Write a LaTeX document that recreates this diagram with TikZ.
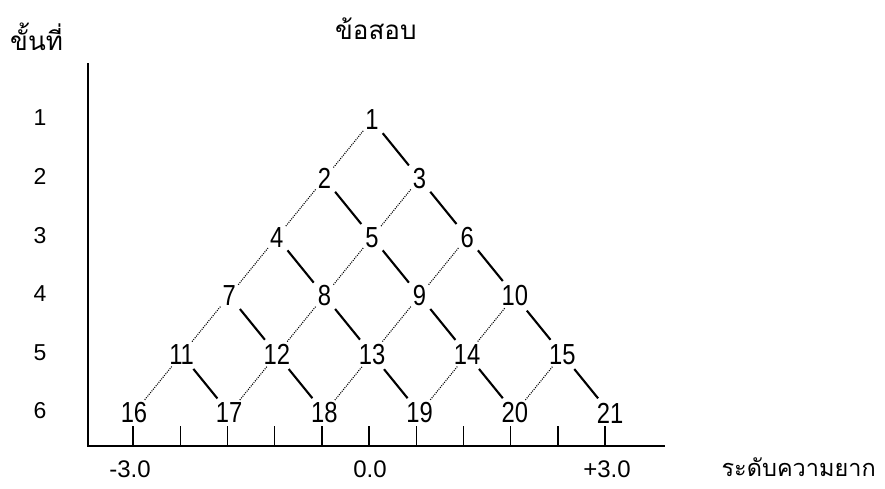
\documentclass[tikz,border=0pt]{standalone}
\usepackage{fontspec}
\setmainfont{Liberation Sans}
\newfontfamily\thaifont[Script=Thai]{Loma}
\newfontfamily\numfont[FakeStretch=0.82]{Liberation Sans}
\begin{document}
\begin{tikzpicture}[x=1pt,y=-1pt,
  item/.style={inner sep=2pt, font=\numfont\fontsize{29}{29}\selectfont},
  rowlab/.style={inner sep=0pt, font=\fontsize{23}{23}\selectfont},
  axlab/.style={inner sep=0pt, font=\fontsize{24}{24}\selectfont},
  thlab/.style={inner sep=0pt, font=\thaifont\fontsize{26}{26}\selectfont},
  solidlink/.style={line width=2.1pt, shorten >=3pt, shorten <=3pt},
  dotlink/.style={line width=1.1pt, dash pattern=on 1pt off 1.2pt},
  axis/.style={line width=1.8pt},
  tick/.style={line width=1.4pt}]
\useasboundingbox (0,0) rectangle (885,488);
% axes
\coordinate (ytop) at (88,63);
\coordinate (orig) at (88,446);
\coordinate (xend) at (665,446);
\draw[axis] (ytop) -- (orig) -- (xend);
% ticks
\foreach \i in {0,...,10}{
  \coordinate (tb\i) at ({133+47.2*\i},446);
  \coordinate (tt\i) at ({133+47.2*\i},426);
  \draw[tick] (tb\i) -- (tt\i);
}
% nodes
\def\ry#1{120+58.6*(#1-1)}
\node[item] (n1)  at (372,{\ry{1}}) {1};
\node[item] (n2)  at ({372-47.6},{\ry{2}}) {2};
\node[item] (n3)  at ({372+47.6},{\ry{2}}) {3};
\node[item] (n4)  at ({372-2*47.6},{\ry{3}}) {4};
\node[item] (n5)  at (372,{\ry{3}}) {5};
\node[item] (n6)  at ({372+2*47.6},{\ry{3}}) {6};
\node[item] (n7)  at ({372-3*47.6},{\ry{4}}) {7};
\node[item] (n8)  at ({372-47.6},{\ry{4}}) {8};
\node[item] (n9)  at ({372+47.6},{\ry{4}}) {9};
\node[item] (n10) at ({372+3*47.6},{\ry{4}}) {10};
\node[item] (n11) at ({372-4*47.6},{\ry{5}}) {11};
\node[item] (n12) at ({372-2*47.6},{\ry{5}}) {12};
\node[item] (n13) at (372,{\ry{5}}) {13};
\node[item] (n14) at ({372+2*47.6},{\ry{5}}) {14};
\node[item] (n15) at ({372+4*47.6},{\ry{5}}) {15};
\node[item] (n16) at ({372-5*47.6},{\ry{6}}) {16};
\node[item] (n17) at ({372-3*47.6},{\ry{6}}) {17};
\node[item] (n18) at ({372-47.6},{\ry{6}}) {18};
\node[item] (n19) at ({372+47.6},{\ry{6}}) {19};
\node[item] (n20) at ({372+3*47.6},{\ry{6}}) {20};
\node[item] (n21) at ({372+5*47.6},{\ry{6}}) {21};
% links
\foreach \a/\b in {1/2,2/4,3/5,4/7,5/8,6/9,7/11,8/12,9/13,10/14,11/16,12/17,13/18,14/19,15/20}
  \draw[dotlink] (n\a) -- (n\b);
\foreach \a/\b in {1/3,2/5,3/6,4/8,5/9,6/10,7/12,8/13,9/14,10/15,11/17,12/18,13/19,14/20,15/21}
  \draw[solidlink] (n\a) -- (n\b);
% row labels
\foreach \r in {1,...,6}
  \node[rowlab] (r\r) at (40,{\ry{\r}-2}) {\r};
% axis labels
\node[axlab] (lm3) at (130,469) {-3.0};
\node[axlab] (l0)  at (370,469) {0.0};
\node[axlab] (lp3) at (607,469) {+3.0};
% thai labels
\node[thlab, anchor=base west] (tlev) at (10,50) {ขั้นที่};
\node[thlab, anchor=base west] (titem) at (335,39) {ข้อสอบ};
\node[thlab, anchor=base east, font=\thaifont\fontsize{23.5}{23.5}\selectfont] (tdiff) at (876,476) {ระดับความยาก};
\end{tikzpicture}
\end{document}
